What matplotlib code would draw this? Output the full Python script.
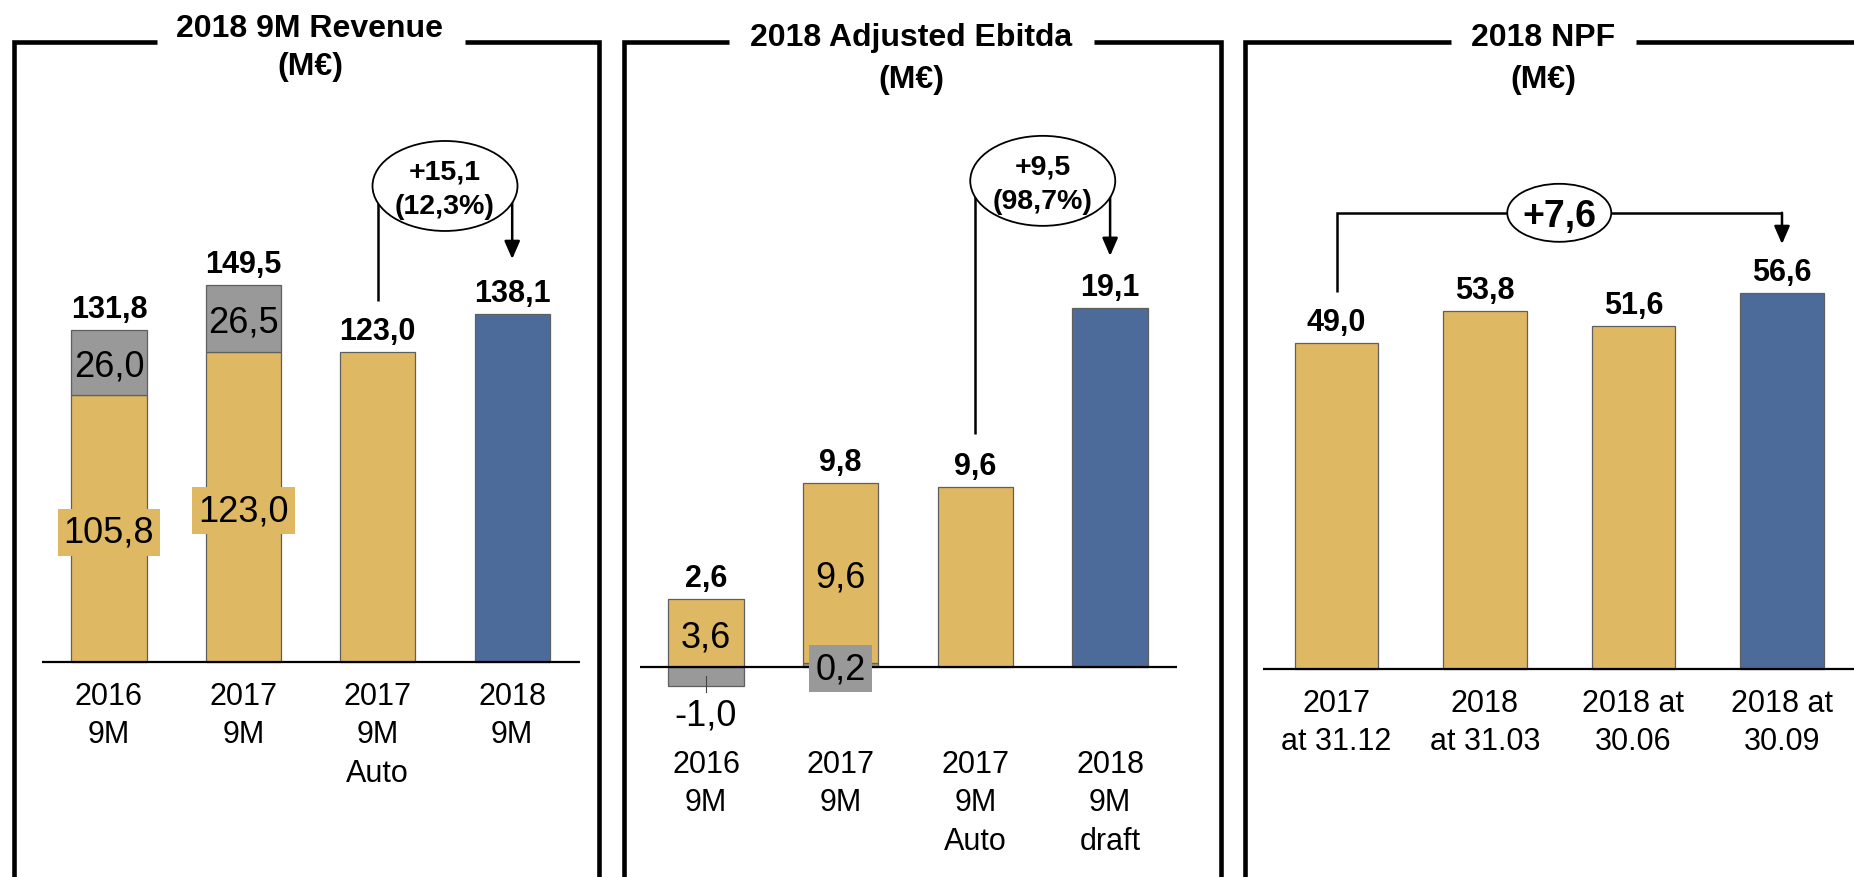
import matplotlib
matplotlib.use("Agg")
import matplotlib.pyplot as plt
from matplotlib.patches import Ellipse

plt.rcParams['font.family'] = ['Liberation Sans', 'DejaVu Sans']

# ---------------- data ----------------
rev_categories = ["2016\n9M", "2017\n9M", "2017\n9M\nAuto", "2018\n9M"]
rev_base = [105.8, 123.0, 123.0, 138.1]
rev_extra = [26.0, 26.5, 0.0, 0.0]
rev_total = [131.8, 149.5, 123.0, 138.1]
rev_delta = ["+15,1", "(12,3%)"]

ebitda_categories = ["2016\n9M", "2017\n9M", "2017\n9M\nAuto", "2018\n9M\ndraft"]
ebitda_base = [3.6, 9.6, 9.6, 19.1]
ebitda_extra = [-1.0, 0.2, 0.0, 0.0]
ebitda_total = [2.6, 9.8, 9.6, 19.1]
ebitda_delta = ["+9,5", "(98,7%)"]

npf_categories = ["2017\nat 31.12", "2018\nat 31.03", "2018 at\n30.06", "2018 at\n30.09"]
npf_values = [49.0, 53.8, 51.6, 56.6]
npf_delta = "+7,6"

titles = [("2018 9M Revenue", "(M€)"), ("2018 Adjusted Ebitda", "(M€)"), ("2018 NPF", "(M€)")]

# ---------------- style ----------------
GOLD = "#DFB863"
BLUE = "#4C6B9B"
GRAY = "#999999"
EDGE = "#5f5f5f"
W, H = 1854, 878
PT = 0.72  # points per pixel at 100 dpi

fig = plt.figure(figsize=(W / 100, H / 100), dpi=100)
fig.patch.set_facecolor("white")


def fmt(v):
    return f"{v:.1f}".replace(".", ",")


# overlay in pixel coordinates for the panel frames and titles
ov = fig.add_axes([0, 0, 1, 1], zorder=0)
ov.set_xlim(0, W)
ov.set_ylim(H, 0)
ov.axis("off")

frames = [  # left, right, gap start, gap end, title x, title baselines
    (14, 599, 157, 465, 310, 37, 75),
    (624, 1221, 729, 1094, 911, 46, 88),
    (1245, W + 20, 1451, 1636, 1543, 46, 88),
]
FRAME_TOP = 43
for (l, r, g0, g1, tx, b1, b2), (t1, t2) in zip(frames, titles):
    ov.plot([l, l, g0], [H + 5, FRAME_TOP, FRAME_TOP], color="black", lw=3.3,
            solid_joinstyle="miter", solid_capstyle="butt")
    ov.plot([g1, r, r], [FRAME_TOP, FRAME_TOP, H + 5], color="black", lw=3.3,
            solid_joinstyle="miter", solid_capstyle="butt")
    ov.text(tx, b1, t1, ha="center", va="baseline", fontsize=23, fontweight="bold")
    ov.text(tx, b2, t2, ha="center", va="baseline", fontsize=23, fontweight="bold")


def panel_axes(x0, x1, c0, step, base_y, ppu):
    ax = fig.add_axes([x0 / W, 0, (x1 - x0) / W, 1], zorder=1)
    ax.set_xlim((x0 - c0) / step, (x1 - c0) / step)
    ax.set_ylim(-(H - base_y) / ppu, base_y / ppu)
    ax.axis("off")
    ax.axhline(0, color="black", lw=1.6, zorder=3)
    return ax


def total_label(ax, i, top, text):
    ax.annotate(text, xy=(i, top), xytext=(0, 13 * PT), textcoords="offset points",
                ha="center", va="baseline", fontsize=22, fontweight="bold", zorder=6)


def seg_label(ax, i, mid, text, color=None):
    box = dict(boxstyle="square,pad=0.17", fc=color, ec="none") if color else None
    ax.annotate(text, xy=(i, mid), xytext=(0, -13 * PT), textcoords="offset points",
                ha="center", va="baseline", fontsize=26, zorder=6, bbox=box)


def cat_labels(ax, cats, first_px, pitch_px=38.5):
    for i, cat in enumerate(cats):
        for k, line in enumerate(cat.split("\n")):
            ax.annotate(line, xy=(i, 0), xytext=(0, -(first_px + k * pitch_px) * PT),
                        textcoords="offset points", ha="center", va="baseline", fontsize=22)


def arrow_down(ax, x, y_from, y_to):
    ax.annotate("", xy=(x, y_to), xytext=(x, y_from), zorder=4,
                arrowprops=dict(arrowstyle="-|>,head_length=1.08,head_width=0.47",
                                mutation_scale=10, color="black", lw=1.8,
                                shrinkA=0, shrinkB=0))


def delta_bubble(ax, cx, cy, w, h, lines, size):
    ax.add_patch(Ellipse((cx, cy), w, h, fc="white", ec="black", lw=1.3, zorder=5))
    if len(lines) == 2:
        offs = [7, -27]
    else:
        offs = [-13.5]
    for line, o in zip(lines, offs):
        ax.annotate(line, xy=(cx, cy), xytext=(0, o * PT), textcoords="offset points",
                    ha="center", va="baseline", fontsize=size, fontweight="bold", zorder=6)


bar_colors = [GOLD, GOLD, GOLD, BLUE]
BW = 0.559

# ---------------- Revenue ----------------
STEP1, PPU1 = 134.4, 2.52
ax1 = panel_axes(42, 580, 109, STEP1, 663, PPU1)
for i, (b, e, t) in enumerate(zip(rev_base, rev_extra, rev_total)):
    ax1.bar(i, b, width=BW, color=bar_colors[i], edgecolor=EDGE, lw=0.9, zorder=2)
    if e:
        ax1.bar(i, e, bottom=b, width=BW, color=GRAY, edgecolor=EDGE, lw=0.9, zorder=2)
        seg_label(ax1, i, b / 2, fmt(b), bar_colors[i])
        seg_label(ax1, i, b + e / 2, fmt(e))
    total_label(ax1, i, b + e, fmt(t))
cat_labels(ax1, rev_categories, 42)

cy1 = 188.9
ax1.plot([2, 2], [cy1, rev_total[2] + 20.3], color="black", lw=1.8, zorder=4,
         solid_capstyle="butt")
arrow_down(ax1, 3, cy1, rev_total[3] + 21.8)
delta_bubble(ax1, 2.5, cy1, 145 / STEP1, 90 / PPU1, rev_delta, 20.5)

# ---------------- Adjusted Ebitda ----------------
STEP2, PPU2 = 134.7, 18.77
ax2 = panel_axes(640, 1177, 706, STEP2, 668, PPU2)
for i, (b, e, t) in enumerate(zip(ebitda_base, ebitda_extra, ebitda_total)):
    low = max(e, 0)
    if e:
        ax2.bar(i, e, width=BW, color=GRAY, edgecolor=EDGE, lw=0.9, zorder=2)
    ax2.bar(i, b, bottom=low, width=BW, color=bar_colors[i], edgecolor=EDGE, lw=0.9, zorder=2)
    if e:
        seg_label(ax2, i, low + b / 2, fmt(b))
        if e > 0:
            seg_label(ax2, i, e / 2, fmt(e), GRAY)
        else:
            ax2.plot([i, i], [e / 2, e - 6 / PPU2], color="#444444", lw=0.8, zorder=4)
            ax2.annotate(fmt(e), xy=(i, e), xytext=(0, -39 * PT), textcoords="offset points",
                         ha="center", va="baseline", fontsize=26, zorder=6)
    total_label(ax2, i, low + b, fmt(t))
cat_labels(ax2, ebitda_categories, 105)

cy2 = 25.9
ax2.plot([2, 2], [cy2, ebitda_total[2] + 2.8], color="black", lw=1.8, zorder=4,
         solid_capstyle="butt")
arrow_down(ax2, 3, cy2, ebitda_total[3] + 2.8)
delta_bubble(ax2, 2.5, cy2, 145 / STEP2, 90 / PPU2, ebitda_delta, 20.5)

# ---------------- NPF ----------------
STEP3, PPU3 = 148.5, 6.65
ax3 = panel_axes(1263, W, 1336.5, STEP3, 670, PPU3)
for i, v in enumerate(npf_values):
    ax3.bar(i, v, width=BW, color=bar_colors[i], edgecolor=EDGE, lw=0.9, zorder=2)
    total_label(ax3, i, v, fmt(v))
cat_labels(ax3, npf_categories, 42)

by = 68.6
ax3.plot([0, 0, 3], [npf_values[0] + 7.7, by, by], color="black", lw=1.8, zorder=4,
         solid_joinstyle="miter", solid_capstyle="butt")
arrow_down(ax3, 3, by, npf_values[3] + 7.3)
delta_bubble(ax3, 1.5, by, 104 / STEP3, 58 / PPU3, [npf_delta], 27)

fig.savefig("out.png", dpi=100, facecolor="white")
